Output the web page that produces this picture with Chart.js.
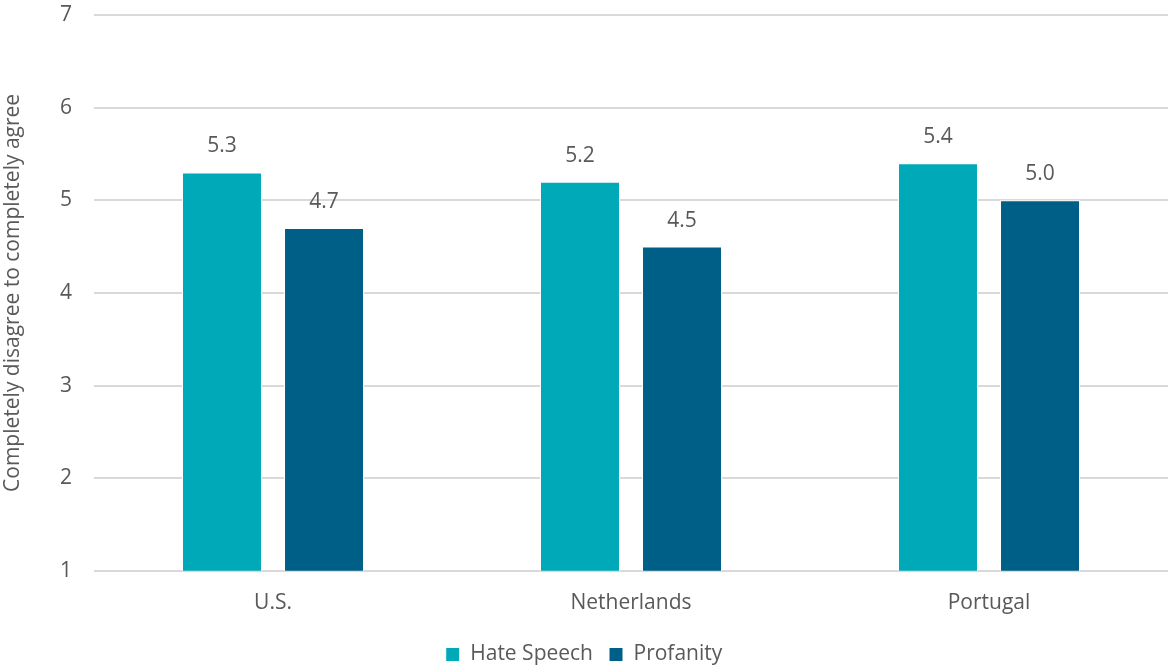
<!DOCTYPE html>
<html>
<head>
<meta charset="utf-8">
<script src="https://cdn.jsdelivr.net/npm/chart.js@4"></script>
<style>
    html, body { margin: 0; padding: 0; background: #fff; }
</style>
</head>
<body>
<canvas id="barChart" width="1168" height="666"></canvas>
<script>
    const countries = ['U.S.', 'Netherlands', 'Portugal'];
    const hateSpeech = [5.3, 5.2, 5.4];
    const profanity = [4.7, 4.5, 5.0];

    const textColor = '#595959';
    const fontFamily = '"Open Sans", Lato, sans-serif';
    const fontSize = 21;

    // ---------------- Value labels above bars ----------------
    const valueLabels = {
        id: 'valueLabels',
        afterDatasetsDraw(chart) {
            const ctx = chart.ctx;
            ctx.save();
            ctx.font = fontSize + 'px ' + fontFamily;
            ctx.fillStyle = textColor;
            ctx.textAlign = 'center';
            ctx.textBaseline = 'middle';
            chart.data.datasets.forEach((ds, i) => {
                chart.getDatasetMeta(i).data.forEach((bar, j) => {
                    ctx.fillText(ds.data[j].toFixed(1), bar.x, bar.y - 26);
                });
            });
            ctx.restore();
        }
    };

    const ctx = document.getElementById('barChart').getContext('2d');
    new Chart(ctx, {
        type: 'bar',
        data: {
            labels: countries,
            datasets: [
                {
                    label: 'Hate Speech',
                    data: hateSpeech,
                    backgroundColor: '#00A9B7',
                    borderColor: '#ffffff',
                    borderWidth: 1,
                    barPercentage: 0.784,
                    categoryPercentage: 0.57
                },
                {
                    label: 'Profanity',
                    data: profanity,
                    backgroundColor: '#005F87',
                    borderColor: '#ffffff',
                    borderWidth: 1,
                    barPercentage: 0.784,
                    categoryPercentage: 0.57
                }
            ]
        },
        options: {
            responsive: false,
            animation: false,
            // legend sits slightly lower than the default box allows
            layout: { padding: { top: 15, right: 0, left: 0, bottom: -9 } },
            scales: {
                x: {
                    grid: { display: false },
                    border: { display: false },
                    ticks: { color: textColor, font: { size: fontSize, family: fontFamily }, padding: 12 }
                },
                y: {
                    min: 1, max: 7,
                    afterFit: scale => {
                        scale.width = 94;
                        scale.paddingTop = 0;
                        scale.paddingBottom = 0;
                    },
                    grid: { color: '#d9d9d9', lineWidth: 2, drawTicks: false },
                    border: { display: false },
                    ticks: { stepSize: 1, color: textColor, font: { size: fontSize, family: fontFamily }, padding: 22 },
                    title: {
                        display: true,
                        text: 'Completely disagree to completely agree',
                        color: textColor,
                        font: { size: fontSize, family: fontFamily },
                        padding: 0
                    }
                }
            },
            plugins: {
                tooltip: { enabled: false },
                legend: {
                    position: 'bottom',
                    labels: {
                        color: textColor,
                        font: { size: fontSize, family: fontFamily },
                        boxWidth: 14,
                        boxHeight: 14,
                        padding: 16
                    }
                }
            }
        },
        plugins: [valueLabels]
    });
</script>
</body>
</html>
